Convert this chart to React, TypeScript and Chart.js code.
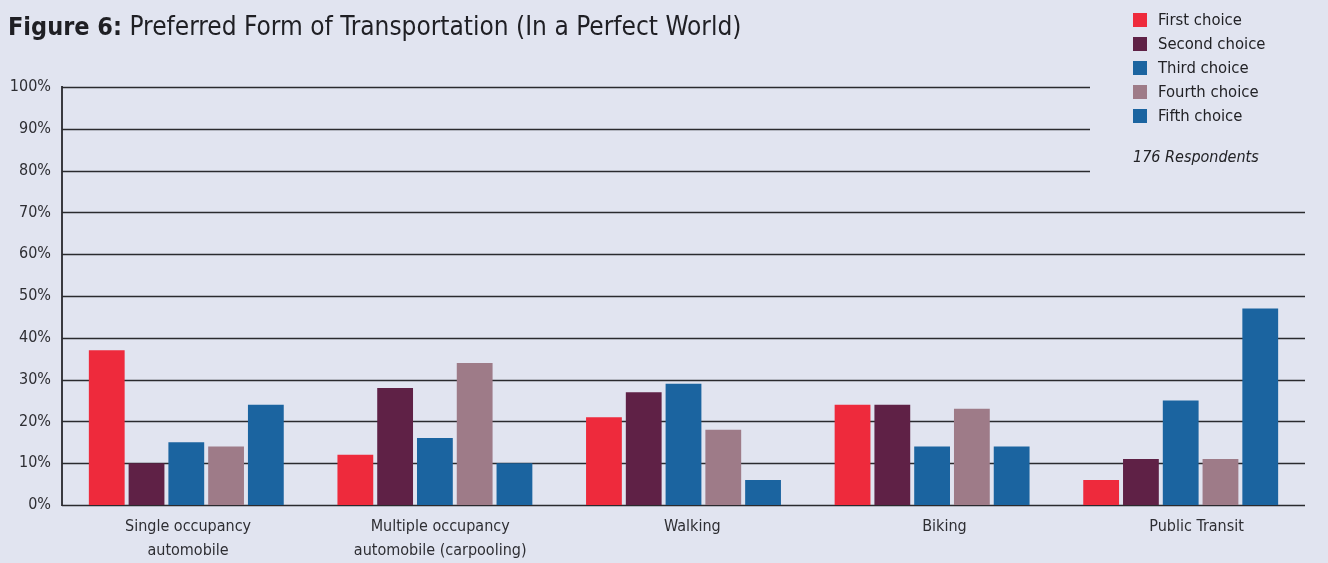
import React, { useEffect, useRef } from "react";
import { Chart, registerables } from "chart.js";

Chart.register(...registerables);

const categories: string[][] = [
  ["Single occupancy", "automobile"],
  ["Multiple occupancy", "automobile (carpooling)"],
  ["Walking"],
  ["Biking"],
  ["Public Transit"],
];
const seriesNames = ["First choice", "Second choice", "Third choice", "Fourth choice", "Fifth choice"];
const firstChoice = [37, 12, 21, 24, 6];
const secondChoice = [10, 28, 27, 24, 11];
const thirdChoice = [15, 16, 29, 14, 25];
const fourthChoice = [14, 34, 18, 23, 11];
const fifthChoice = [24, 10, 6, 14, 47];
const seriesColors = ["#ee2a3c", "#5f2146", "#1b64a0", "#9e7b88", "#1b64a0"];
const titleBold = "Figure 6:";
const titleRest = " Preferred Form of Transportation (In a Perfect World)";
const noteText = "176 Respondents";
const shortGridValues = [80, 90, 100];
const labelAxisMin = -0.5;
const labelAxisMax = 4.43;

const FONT = '"Liberation Sans Narrow", "DejaVu Sans Condensed", "Noto Sans", sans-serif';
const BG = "#e1e4f0";

export default function App() {
  const ref = useRef<HTMLCanvasElement | null>(null);

  useEffect(() => {
    document.body.style.margin = "0";
    document.body.style.background = BG;
    const canvas = ref.current;
    if (!canvas) return;

    const gridPlugin = {
      id: "customGrid",
      beforeDatasetsDraw(chart: any) {
        const { ctx, chartArea, scales } = chart;
        const y = scales.y;
        ctx.save();
        ctx.strokeStyle = "#2a2a2e";
        ctx.lineWidth = 1.3;
        y.ticks.forEach((t: any) => {
          const py = Math.round(y.getPixelForValue(t.value)) + 0.5;
          const xEnd = shortGridValues.includes(t.value) ? 1090 : chartArea.right;
          ctx.beginPath();
          ctx.moveTo(chartArea.left, py);
          ctx.lineTo(xEnd, py);
          ctx.stroke();
        });
        ctx.restore();
      },
    };

    const decorPlugin = {
      id: "decor",
      afterDraw(chart: any) {
        const { ctx } = chart;
        ctx.save();
        ctx.fillStyle = "#1f1f24";
        ctx.textBaseline = "alphabetic";
        ctx.textAlign = "left";
        ctx.font = `bold 25px ${FONT}`;
        ctx.fillText(titleBold, 8, 35);
        const w = ctx.measureText(titleBold).width;
        ctx.font = `26px ${FONT}`;
        ctx.fillText(titleRest, 8 + w, 35);

        // legend
        chart.data.datasets.forEach((ds: any, i: number) => {
          const cy = 20 + i * 24;
          ctx.fillStyle = ds.backgroundColor;
          ctx.fillRect(1133, cy - 7, 14, 14);
          ctx.fillStyle = "#222226";
          ctx.font = `16.5px ${FONT}`;
          ctx.textBaseline = "middle";
          ctx.fillText(ds.label, 1158, cy + 1);
        });
        ctx.font = `italic 16px ${FONT}`;
        ctx.fillStyle = "#222226";
        ctx.textBaseline = "middle";
        ctx.fillText(noteText, 1133, 158);
        ctx.restore();
      },
    };

    const series = [firstChoice, secondChoice, thirdChoice, fourthChoice, fifthChoice];
    const chart = new Chart(canvas, {
      type: "bar",
      data: {
        labels: categories,
        datasets: series.map((d, i) => ({
          label: seriesNames[i],
          data: d,
          xAxisID: "x",
          backgroundColor: seriesColors[i],
          borderWidth: 0,
          barPercentage: 0.9,
          categoryPercentage: 0.8,
        })),
      },
      options: {
        responsive: false,
        animation: false,
        devicePixelRatio: 1,
        layout: { padding: { top: 87, right: 23, left: 0, bottom: 0 } },
        plugins: {
          legend: { display: false },
          title: { display: false },
          tooltip: { enabled: false },
        },
        scales: {
          x: {
            type: "category",
            display: false,
          },
          catLabels: {
            type: "linear",
            axis: "x",
            position: "bottom",
            offset: false,
            bounds: "data",
            min: labelAxisMin,
            max: labelAxisMax,
            grid: { display: false, drawTicks: false, offset: false },
            border: { display: false },
            afterBuildTicks(scale: any) {
              scale.min = labelAxisMin;
              scale.max = labelAxisMax;
              scale.ticks = categories.map((_, i) => ({ value: i }));
            },
            ticks: {
              color: "#2e2e33",
              font: { family: FONT, size: 16, lineHeight: "24px" } as any,
              padding: 10,
              maxRotation: 0,
              autoSkip: false,
              callback: (v: any) => categories[Math.round(Number(v))] ?? "",
            },
            afterFit(scale: any) {
              scale.height = 58;
            },
          },
          y: {
            min: 0,
            max: 100,
            grid: { display: false, drawTicks: false },
            border: { display: true, color: "#3a3a40", width: 2 },
            ticks: {
              stepSize: 10,
              color: "#2e2e33",
              font: { family: FONT, size: 16 },
              padding: 11,
              callback: (v: any) => `${v}%`,
            },
            afterFit(scale: any) {
              scale.width = 62;
            },
          },
        },
      },
      plugins: [gridPlugin, decorPlugin],
    } as any);
    return () => chart.destroy();
  }, []);

  return (
    <div style={{ width: 1328, height: 563, background: BG }}>
      <canvas ref={ref} width={1328} height={563} style={{ display: "block" }} />
    </div>
  );
}
